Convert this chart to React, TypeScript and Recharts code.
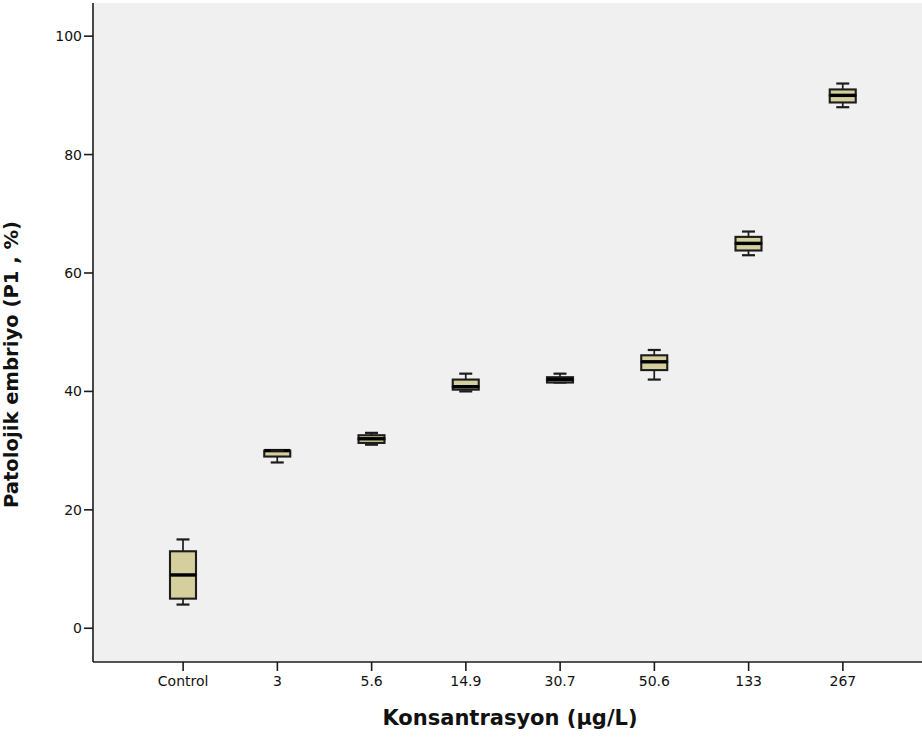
import React from 'react';
import { ComposedChart, Bar, XAxis, YAxis, CartesianGrid, Label } from 'recharts';

// Concentration groups (x categories)
const categories = ['Control', '3', '5.6', '14.9', '30.7', '50.6', '133', '267'];
// Box plot statistics (Patolojik embriyo, %)
const mins = [4, 28, 31, 40, 41.5, 42, 63, 88];
const q1s = [5, 29, 31.3, 40.3, 41.5, 43.6, 63.8, 88.8];
const medians = [9, 30, 32, 40.8, 42, 45, 65, 90];
const q3s = [13, 30, 32.6, 42, 42.4, 46.1, 66.1, 91];
const maxs = [15, 30, 33, 43, 43, 47, 67, 92];
const yTicks = [0, 20, 40, 60, 80, 100];

const data = categories.map((name, i) => ({
  name,
  base: mins[i],
  lowWhisker: q1s[i] - mins[i],
  lowBox: medians[i] - q1s[i],
  highBox: q3s[i] - medians[i],
  highWhisker: maxs[i] - q3s[i],
}));

const BOX_FILL = '#d4cf9c';
const INK = '#1c1c1c';
const CAP = 13;

const Nothing = () => <g />;

const LowWhisker = (p: any) => {
  const { x, y, width, height } = p;
  const cx = x + width / 2;
  const bottom = y + height;
  return (
    <g>
      <line x1={cx} x2={cx} y1={y} y2={bottom} stroke={INK} strokeWidth={1.7} />
      <line x1={cx - CAP / 2} x2={cx + CAP / 2} y1={bottom} y2={bottom} stroke={INK} strokeWidth={2.2} />
    </g>
  );
};

const HighWhisker = (p: any) => {
  const { x, y, width, height } = p;
  const cx = x + width / 2;
  return (
    <g>
      <line x1={cx} x2={cx} y1={y} y2={y + height} stroke={INK} strokeWidth={1.7} />
      <line x1={cx - CAP / 2} x2={cx + CAP / 2} y1={y} y2={y} stroke={INK} strokeWidth={2.2} />
    </g>
  );
};

const LowBox = (p: any) => {
  const { x, y, width, height } = p;
  return <rect x={x} y={y} width={width} height={Math.max(height, 0)} fill={BOX_FILL} stroke={INK} strokeWidth={2.1} />;
};

const HighBox = (p: any) => {
  const { x, y, width, height } = p;
  const bottom = y + height;
  return (
    <g>
      <rect x={x} y={y} width={width} height={Math.max(height, 0)} fill={BOX_FILL} stroke={INK} strokeWidth={2.1} />
      <line x1={x} x2={x + width} y1={bottom} y2={bottom} stroke="#000" strokeWidth={3.4} />
    </g>
  );
};

const XTitle = (props: any) => {
  const vb = props.viewBox || {};
  return (
    <text
      x={vb.x + vb.width / 2 - 3}
      y={vb.y + 63}
      textAnchor="middle"
      fontFamily="DejaVu Sans"
      fontWeight="bold"
      fontSize={21}
      fill="#111"
    >
      Konsantrasyon (µg/L)
    </text>
  );
};

const YTitle = (props: any) => {
  const vb = props.viewBox || {};
  const cx = vb.x - 15;
  const cy = vb.y + vb.height / 2 + 32;
  return (
    <text
      x={cx}
      y={cy}
      transform={`rotate(-90, ${cx}, ${cy})`}
      textAnchor="middle"
      fontFamily="DejaVu Sans"
      fontWeight="bold"
      fontSize={19.6}
      fill="#111"
    >
      Patolojik embriyo (P1 , %)
    </text>
  );
};

const tickStyle = { fill: '#111', fontSize: 14, fontFamily: 'DejaVu Sans' };

export default function App() {
  return (
    <div
      style={{
        position: 'absolute',
        left: 0,
        top: 0,
        width: 922,
        height: 742,
        overflow: 'hidden',
        background: '#fff',
      }}
    >
      <ComposedChart
        width={940}
        height={742}
        data={data}
        margin={{ top: 3, right: 7, bottom: 0, left: 33 }}
        barCategoryGap={0}
      >
        <CartesianGrid fill="#f0f0f0" stroke="none" horizontal={false} vertical={false} />
        <XAxis
          dataKey="name"
          height={80}
          padding={{ left: 43, right: 43 }}
          tick={tickStyle}
          tickSize={9}
          tickMargin={5}
          axisLine={{ stroke: INK, strokeWidth: 1.6 }}
          tickLine={{ stroke: INK, strokeWidth: 1.6 }}
          interval={0}
        >
          <Label content={XTitle} />
        </XAxis>
        <XAxis
          xAxisId="top"
          dataKey="name"
          orientation="top"
          height={0}
          tick={false}
          tickLine={false}
          axisLine={{ stroke: INK, strokeWidth: 1.6 }}
        />
        <YAxis
          width={60}
          domain={[-5.7, 105.6]}
          ticks={yTicks}
          allowDataOverflow
          tick={tickStyle}
          tickSize={9}
          tickMargin={2}
          axisLine={{ stroke: INK, strokeWidth: 1.6 }}
          tickLine={{ stroke: INK, strokeWidth: 1.6 }}
        >
          <Label content={YTitle} />
        </YAxis>
        <Bar dataKey="base" stackId="box" barSize={26} shape={Nothing} isAnimationActive={false} />
        <Bar dataKey="lowWhisker" stackId="box" barSize={26} shape={LowWhisker} isAnimationActive={false} />
        <Bar dataKey="lowBox" stackId="box" barSize={26} shape={LowBox} isAnimationActive={false} />
        <Bar dataKey="highBox" stackId="box" barSize={26} shape={HighBox} isAnimationActive={false} />
        <Bar dataKey="highWhisker" stackId="box" barSize={26} shape={HighWhisker} isAnimationActive={false} />
      </ComposedChart>
    </div>
  );
}
